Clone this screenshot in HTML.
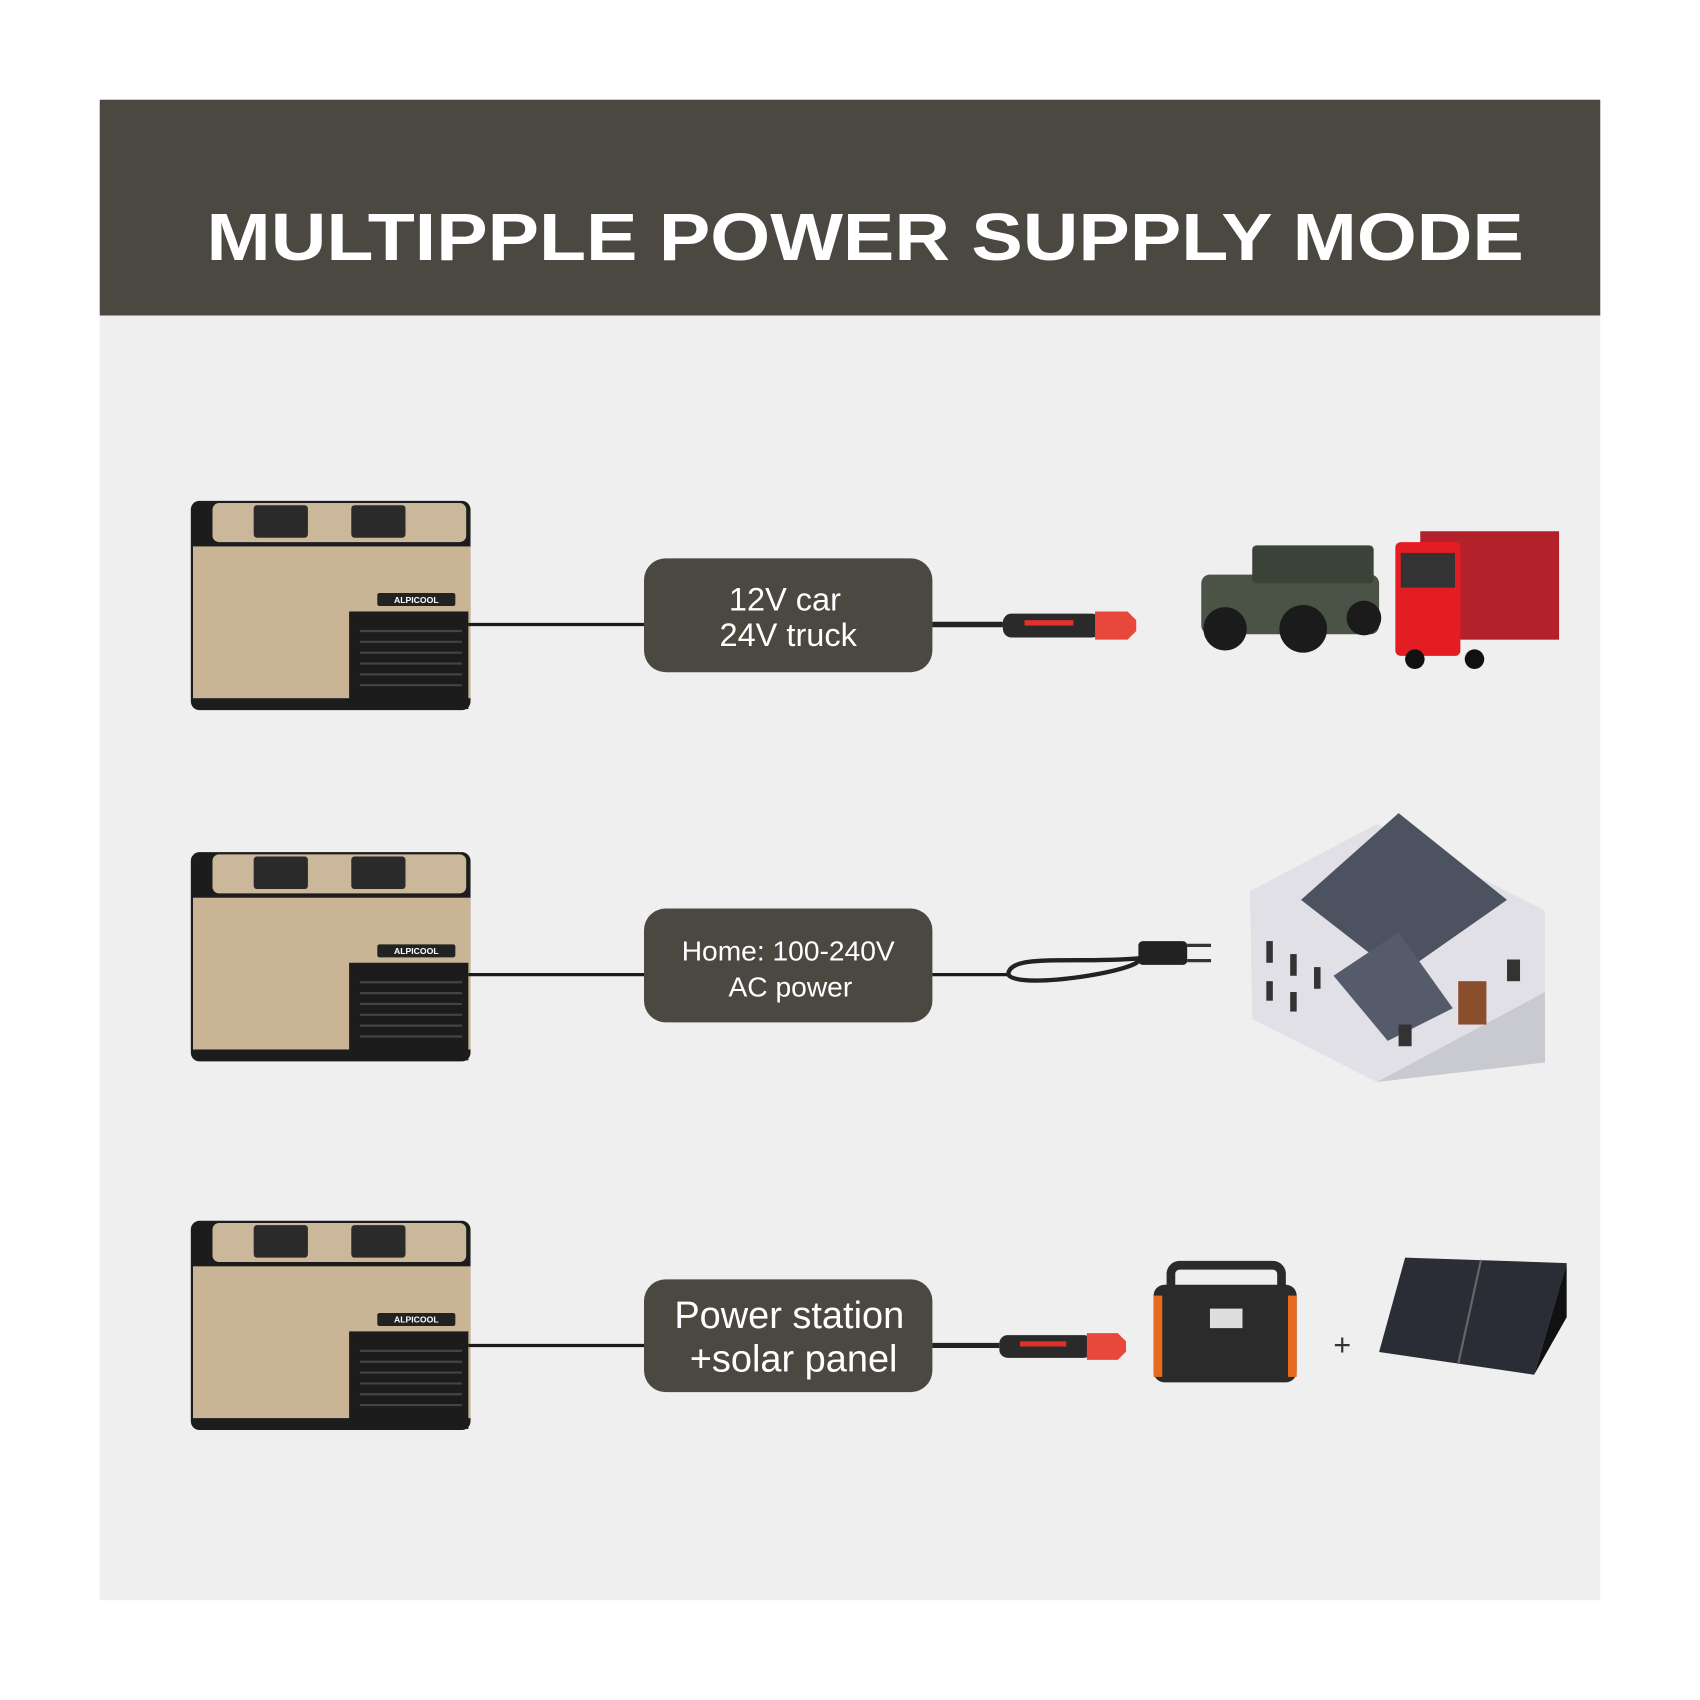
<!DOCTYPE html>
<html><head><meta charset="utf-8"><style>html,body{margin:0;padding:0;background:#fff}svg{display:block}</style></head>
<body>
<svg width="1700" height="1700" viewBox="0 0 1568 1568" xmlns="http://www.w3.org/2000/svg" font-family="Liberation Sans, sans-serif">
<rect width="1568" height="1568" fill="#fff"/>
<rect x="92" y="92" width="1384" height="1384" fill="#efefef"/>
<rect x="92" y="92" width="1384" height="199" fill="#4b4842"/>
<text x="798" y="240" fill="#fff" font-size="62" font-weight="bold" text-anchor="middle" textLength="1215" lengthAdjust="spacingAndGlyphs">MULTIPPLE POWER SUPPLY MODE</text>
<defs>
<g id="cooler">
<rect x="0" y="0" width="258" height="193" rx="8" fill="#1c1c1c"/>
<rect x="20" y="2" width="234" height="36" rx="6" fill="#cbb79a"/>
<rect x="58" y="4" width="50" height="30" rx="3" fill="#2a2a2a"/>
<rect x="148" y="4" width="50" height="30" rx="3" fill="#2a2a2a"/>
<rect x="2" y="42" width="256" height="140" fill="#c9b596"/>
<rect x="146" y="102" width="110" height="90" fill="#1c1c1c"/>
<g stroke="#444" stroke-width="2"><line x1="156" y1="120" x2="250" y2="120"/><line x1="156" y1="130" x2="250" y2="130"/><line x1="156" y1="140" x2="250" y2="140"/><line x1="156" y1="150" x2="250" y2="150"/><line x1="156" y1="160" x2="250" y2="160"/><line x1="156" y1="170" x2="250" y2="170"/></g>
<rect x="172" y="85" width="72" height="12" rx="2" fill="#222"/>
<text x="208" y="94" fill="#fff" font-size="8" font-weight="bold" text-anchor="middle">ALPICOOL</text>
</g>
<g id="plug">
<path d="M0 0 h65" stroke="#222" stroke-width="5" fill="none"/>
<rect x="65" y="-10" width="90" height="22" rx="8" fill="#2a2a2a"/>
<rect x="85" y="-4" width="45" height="5" fill="#e0312b"/>
<path d="M150 -12 h30 l8 8 v10 l-8 8 h-30 z" fill="#e8473b"/>
</g>
</defs>
<g transform="translate(176,462)"><use href="#cooler"/></g>
<g transform="translate(176,786)"><use href="#cooler"/></g>
<g transform="translate(176,1126)"><use href="#cooler"/></g>
<g stroke="#1a1a1a" stroke-width="3">
<line x1="432" y1="576" x2="595" y2="576"/><line x1="860" y1="576" x2="870" y2="576"/>
<line x1="432" y1="899" x2="595" y2="899"/><line x1="860" y1="899" x2="930" y2="899"/>
<line x1="432" y1="1241" x2="595" y2="1241"/>
</g>
<g fill="#4b4842">
<rect x="594" y="515" width="266" height="105" rx="20"/>
<rect x="594" y="838" width="266" height="105" rx="20"/>
<rect x="594" y="1180" width="266" height="104" rx="20"/>
</g>
<g fill="#fff" text-anchor="middle">
<text x="724" y="563" font-size="30">12V car</text>
<text x="727" y="596" font-size="30">24V truck</text>
<text x="727" y="886" font-size="26">Home: 100-240V</text>
<text x="729" y="919" font-size="26">AC power</text>
<text x="728" y="1225" font-size="35">Power station</text>
<text x="732" y="1265" font-size="35">+solar panel</text>
</g>
<g transform="translate(860,576)"><use href="#plug"/></g>
<g transform="translate(860,1241) scale(0.95)"><use href="#plug"/></g>
<!-- AC cord -->
<path d="M930 899 c0 -20 60 -10 120 -15 c10 10 -110 30 -120 15 z" fill="none" stroke="#222" stroke-width="4"/>
<rect x="1050" y="868" width="45" height="22" rx="4" fill="#222"/>
<path d="M1095 872 h22 M1095 886 h22" stroke="#333" stroke-width="3"/>
<!-- jeep -->
<rect x="1108" y="530" width="164" height="55" rx="8" fill="#4a5346"/>
<rect x="1155" y="503" width="112" height="35" rx="4" fill="#3b4238"/>
<circle cx="1130" cy="580" r="20" fill="#1b1b1b"/><circle cx="1202" cy="580" r="22" fill="#1b1b1b"/><circle cx="1258" cy="570" r="16" fill="#1b1b1b"/>
<!-- truck -->
<rect x="1310" y="490" width="128" height="100" fill="#b3212a"/>
<rect x="1287" y="500" width="60" height="105" rx="5" fill="#e41d23"/>
<rect x="1292" y="510" width="50" height="32" fill="#333"/>
<circle cx="1305" cy="608" r="9" fill="#111"/><circle cx="1360" cy="608" r="9" fill="#111"/>
<!-- house -->
<polygon points="1153,822 1270,760 1425,840 1425,915 1270,998 1155,940" fill="#e0e0e6"/>
<polygon points="1200,830 1290,750 1390,830 1290,900" fill="#4d5260"/>
<polygon points="1230,900 1290,860 1340,930 1280,960" fill="#555b6a"/>
<polygon points="1270,998 1425,915 1425,980" fill="#c9c9d0"/>
<g fill="#333"><rect x="1168" y="868" width="6" height="20"/><rect x="1190" y="880" width="6" height="20"/><rect x="1212" y="892" width="6" height="20"/><rect x="1168" y="905" width="6" height="18"/><rect x="1190" y="915" width="6" height="18"/><rect x="1290" y="945" width="12" height="20"/><rect x="1390" y="885" width="12" height="20"/></g>
<rect x="1345" y="905" width="26" height="40" fill="#8a4e2c"/>
<!-- power station -->
<rect x="1064" y="1185" width="132" height="90" rx="10" fill="#2b2b2b"/>
<path d="M1080 1190 v-15 a8 8 0 0 1 8 -8 h86 a8 8 0 0 1 8 8 v15" fill="none" stroke="#2b2b2b" stroke-width="8"/>
<rect x="1064" y="1195" width="8" height="75" fill="#e86a1e"/><rect x="1188" y="1195" width="8" height="75" fill="#e86a1e"/>
<rect x="1116" y="1207" width="30" height="18" fill="#ddd"/>
<text x="1238" y="1250" font-size="28" fill="#333" text-anchor="middle">+</text>
<!-- solar -->
<polygon points="1296,1160 1445,1165 1415,1268 1272,1247" fill="#2a2d36"/>
<line x1="1366" y1="1162" x2="1345" y2="1258" stroke="#666" stroke-width="2"/>
<polygon points="1445,1165 1415,1268 1445,1215" fill="#111"/>
</svg>
</body></html>
